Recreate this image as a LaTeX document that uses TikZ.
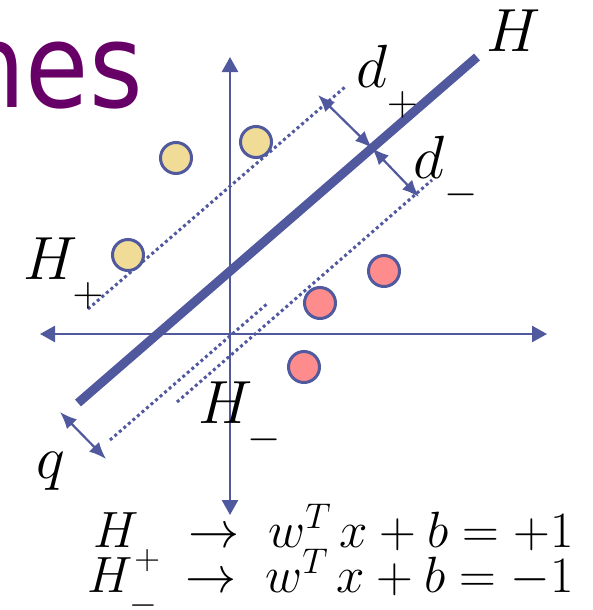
\documentclass[tikz,border=0pt]{standalone}
\usepackage{fix-cm}
\usepackage{amsmath}
\usepackage{fontspec}
\newfontfamily\titlefont[FakeStretch=0.88]{DejaVu Sans}
\usetikzlibrary{arrows.meta}
\definecolor{axiscolor}{RGB}{80,88,158}
\definecolor{posfill}{RGB}{240,220,150}
\definecolor{negfill}{RGB}{255,140,140}
\definecolor{titlecolor}{RGB}{102,0,102}
\newcommand{\lowsub}[1]{\raisebox{-0.3em}{$\scriptstyle #1$}}

\tikzset{
  axis/.style={draw=axiscolor, line width=2.5pt,
               {Triangle[length=15pt,width=16pt]}-{Triangle[length=15pt,width=16pt]}},
  hyper/.style={draw=axiscolor, line width=9pt},
  margin/.style={draw=axiscolor, line width=3pt, dash pattern=on 3pt off 3pt},
  gap/.style={draw=axiscolor, line width=2.2pt,
              {Latex[length=17pt,width=14pt]}-{Latex[length=17pt,width=14pt]}},
  pospt/.style={circle, draw=axiscolor, line width=3pt, fill=posfill,
                minimum size=31pt, inner sep=0},
  negpt/.style={circle, draw=axiscolor, line width=3pt, fill=negfill,
                minimum size=31pt, inner sep=0},
  lbl/.style={inner sep=0, font=\fontsize{61}{70}\selectfont},
  eqn/.style={inner sep=0, font=\fontsize{51}{60}\selectfont},
  title/.style={inner sep=0, text=titlecolor, font=\titlefont\fontsize{117}{120}\selectfont}
}

\begin{document}
\begin{tikzpicture}[x=1pt, y=-1pt]
  \useasboundingbox (0,0) rectangle (593,610);

  \node[title, anchor=base east] (title) at (143,107) {nes};

  % axes
  \coordinate (xl) at (40,334);
  \coordinate (xr) at (547,334);
  \coordinate (yt) at (230,57);
  \coordinate (yb) at (230,515);
  \draw[axis] (xl) -- (xr);
  \draw[axis] (yb) -- (yt);

  % hyperplane and margins
  \coordinate (h1) at (78,403);
  \coordinate (h2) at (477,57);
  \coordinate (p1) at (88,309);
  \coordinate (p2) at (345,87);
  \coordinate (m1) at (110,440);
  \coordinate (m2) at (268,303);
  \coordinate (n1) at (177,402);
  \coordinate (n2) at (432,180);
  \draw[margin] (p1) -- (p2);
  \draw[margin] (m1) -- (m2);
  \draw[margin] (n1) -- (n2);
  \draw[hyper] (h1) -- (h2);

  % distances
  \coordinate (dpa) at (318,95);
  \coordinate (dmid) at (372,148);
  \coordinate (dmb) at (419,197);
  \coordinate (qa) at (60,412);
  \coordinate (qb) at (106,459);
  \draw[gap] (dpa) -- (dmid);
  \draw[gap] (dmid) -- (dmb);
  \draw[gap] (qa) -- (qb);

  % points
  \node[pospt] (pos1) at (176,158) {};
  \node[pospt] (pos2) at (256,142) {};
  \node[pospt] (pos3) at (128,255) {};
  \node[negpt] (neg1) at (384,271) {};
  \node[negpt] (neg2) at (320,303) {};
  \node[negpt] (neg3) at (304,367) {};

  % labels
  \node[lbl, anchor=base west] (hlab) at (486,52) {$H$};
  \node[lbl, anchor=base west] (dplab) at (356,88) {$d_{\lowsub{+}}$};
  \node[lbl, anchor=base west] (dmlab) at (413,178) {$d_{\lowsub{-}}$};
  \node[lbl, anchor=base west] (hplab) at (23,279) {$H_{\lowsub{+}}$};
  \node[lbl, anchor=base west] (hmlab) at (198,423) {$H_{\lowsub{-}}$};
  \node[lbl, anchor=base west] (qlab) at (36,478) {$q$};

  \node[eqn, anchor=base east] (eqpos) at (574,547)
       {$H_{\lowsub{+}}\;\rightarrow\; w^{T}\,x + b = +1$};
  \node[eqn, anchor=base east] (eqneg) at (574,592)
       {$H_{\lowsub{-}}\;\rightarrow\; w^{T}\,x + b = -1$};
\end{tikzpicture}
\end{document}
